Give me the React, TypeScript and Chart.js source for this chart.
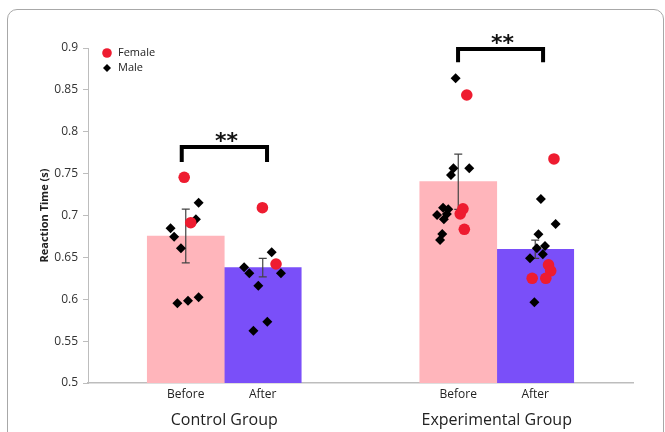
import React, { useEffect, useRef } from 'react';
import { Chart, registerables } from 'chart.js';

Chart.register(...registerables);

// ---------- DATA ----------
const groupLabels = ['Control Group', 'Experimental Group'];
const phaseLabels = ['Before', 'After'];
const beforeMeans = [0.6755, 0.7404];
const afterMeans = [0.6377, 0.6597];
const beforeErr = [0.032, 0.033];
const afterErr = [0.011, 0.011];
const yTicks = [0.5, 0.55, 0.6, 0.65, 0.7, 0.75, 0.8, 0.85, 0.9];

// individual subjects (x = jittered position in group units, y = reaction time)
const femaleX = [-0.147, -0.123, 0.14, 0.19, 0.89, 0.866, 0.876, 0.881, 1.21, 1.19, 1.198, 1.13, 1.18];
const femaleY = [0.7456, 0.6914, 0.7093, 0.6421, 0.8439, 0.702, 0.708, 0.6835, 0.7675, 0.641, 0.634, 0.625, 0.625];
const maleX = [
  -0.094, -0.104, -0.197, -0.184, -0.159, -0.172, -0.133, -0.094,
  0.174, 0.073, 0.092, 0.208, 0.125, 0.158, 0.107,
  0.849, 0.841, 0.899, 0.832, 0.781, 0.803, 0.817, 0.806, 0.822, 0.8, 0.792,
  1.162, 1.216, 1.153, 1.177, 1.147, 1.169, 1.122, 1.138,
];
const maleY = [
  0.7153, 0.6955, 0.6847, 0.6747, 0.6608, 0.5952, 0.5983, 0.6023,
  0.6561, 0.6381, 0.631, 0.631, 0.6162, 0.5732, 0.5625,
  0.8638, 0.7564, 0.7564, 0.7484, 0.7006, 0.7093, 0.7018, 0.6955, 0.7075, 0.678, 0.6707,
  0.7197, 0.6899, 0.6776, 0.6636, 0.6608, 0.6537, 0.6489, 0.5964,
];

// significance brackets
const bracketLeft = [-0.156, 0.858];
const bracketRight = [0.157, 1.17];
const bracketTop = [0.7818, 0.8988];
const bracketLeg = [0.7639, 0.883];
const sigLabels = ['**', '**'];

const legendLabels = ['Female', 'Male'];

// ---------- STYLE ----------
const PINK = '#FFB5BB';
const PURPLE = '#7A4FF9';
const RED = '#EE1C30';
const FONT = "'Open Sans', 'Noto Sans', sans-serif";
const PAIR_WIDTH = 0.565; // fraction of a group slot covered by the two bars
const barOffset = PAIR_WIDTH / 4;

const errorBarPlugin = {
  id: 'errorBars',
  afterDatasetDraw(chart: any, args: any) {
    const meta = args.meta;
    if (meta.type !== 'bar') return;
    const errs = args.index === 0 ? beforeErr : afterErr;
    const means = args.index === 0 ? beforeMeans : afterMeans;
    const y = chart.scales.y;
    const ctx = chart.ctx;
    ctx.save();
    ctx.strokeStyle = '#444';
    ctx.lineWidth = 1.2;
    meta.data.forEach((bar: any, i: number) => {
      const x = bar.x;
      const top = y.getPixelForValue(means[i] + errs[i]);
      const bot = y.getPixelForValue(means[i] - errs[i]);
      ctx.beginPath();
      ctx.moveTo(x, top);
      ctx.lineTo(x, bot);
      ctx.moveTo(x - 4, top);
      ctx.lineTo(x + 4, top);
      ctx.moveTo(x - 4, bot);
      ctx.lineTo(x + 4, bot);
      ctx.stroke();
    });
    ctx.restore();
  },
};

const annotPlugin = {
  id: 'annot',
  afterDatasetsDraw(chart: any) {
    const ctx = chart.ctx;
    const xs = chart.scales.x;
    const y = chart.scales.y;
    ctx.save();
    ctx.strokeStyle = '#000';
    ctx.lineWidth = 4;
    ctx.lineJoin = 'miter';
    ctx.lineCap = 'butt';
    for (let i = 0; i < bracketLeft.length; i++) {
      const xl = xs.getPixelForValue(bracketLeft[i]);
      const xr = xs.getPixelForValue(bracketRight[i]);
      const yt = y.getPixelForValue(bracketTop[i]);
      const yl = y.getPixelForValue(bracketLeg[i]);
      ctx.beginPath();
      ctx.moveTo(xl, yl);
      ctx.lineTo(xl, yt);
      ctx.lineTo(xr, yt);
      ctx.lineTo(xr, yl);
      ctx.stroke();
      ctx.fillStyle = '#111';
      ctx.font = "bold 22px 'DejaVu Sans'";
      ctx.textAlign = 'center';
      ctx.textBaseline = 'alphabetic';
      ctx.fillText(sigLabels[i], (xl + xr) / 2 + 2, yt + 1);
    }
    // legend
    const lx = chart.chartArea.left + 19;
    const ly = chart.chartArea.top + 5;
    ctx.fillStyle = RED;
    ctx.beginPath();
    ctx.arc(lx, ly, 4.8, 0, Math.PI * 2);
    ctx.fill();
    ctx.fillStyle = '#000';
    ctx.beginPath();
    const dy = ly + 15;
    ctx.moveTo(lx, dy - 4);
    ctx.lineTo(lx + 4, dy);
    ctx.lineTo(lx, dy + 4);
    ctx.lineTo(lx - 4, dy);
    ctx.closePath();
    ctx.fill();
    ctx.font = `11px ${FONT}`;
    ctx.textAlign = 'left';
    ctx.textBaseline = 'middle';
    ctx.fillStyle = '#222';
    ctx.fillText(legendLabels[0], lx + 11, ly);
    ctx.fillText(legendLabels[1], lx + 11, dy);
    ctx.restore();
  },
};

export default function App() {
  const ref = useRef<HTMLCanvasElement>(null);
  useEffect(() => {
    document.body.style.margin = '0';
    const chart = new Chart(ref.current as HTMLCanvasElement, {
      type: 'bar',
      data: {
        datasets: [
          {
            label: phaseLabels[0],
            data: beforeMeans.map((v, i) => ({ x: i - barOffset, y: v })),
            backgroundColor: PINK,
            xAxisID: 'x',
            yAxisID: 'y',
            grouped: false,
            categoryPercentage: 1,
            barPercentage: 1,
            order: 2,
          } as any,
          {
            label: phaseLabels[1],
            data: afterMeans.map((v, i) => ({ x: i + barOffset, y: v })),
            backgroundColor: PURPLE,
            xAxisID: 'x',
            yAxisID: 'y',
            grouped: false,
            categoryPercentage: 1,
            barPercentage: 1,
            order: 2,
          } as any,
          {
            type: 'scatter',
            label: legendLabels[0],
            data: femaleX.map((x, i) => ({ x, y: femaleY[i] })),
            xAxisID: 'x',
            yAxisID: 'y',
            pointStyle: 'circle',
            pointRadius: 5.8,
            backgroundColor: RED,
            borderColor: RED,
            borderWidth: 0,
            order: 0,
          } as any,
          {
            type: 'scatter',
            label: legendLabels[1],
            data: maleX.map((x, i) => ({ x, y: maleY[i] })),
            xAxisID: 'x',
            yAxisID: 'y',
            pointStyle: 'rectRot',
            pointRadius: 5,
            backgroundColor: '#000',
            borderColor: '#000',
            borderWidth: 0,
            order: 1,
          } as any,
        ],
      },
      options: {
        responsive: false,
        animation: false,
        devicePixelRatio: 1,
        layout: { padding: { left: 38, right: 32, top: 48, bottom: 0 } },
        plugins: {
          legend: { display: false },
          tooltip: { enabled: false },
        },
        scales: {
          y: {
            type: 'linear',
            min: 0.5,
            max: 0.9,
            afterFit: (s: any) => { s.width = 50; },
            afterBuildTicks: (s: any) => { s.ticks = yTicks.map((value) => ({ value })); },
            ticks: {
              callback: (v: any) => String(v),
              font: { family: FONT, size: 12 },
              color: '#333',
              padding: 5,
            },
            grid: { drawOnChartArea: false, drawTicks: true, tickLength: 5, color: '#bdbdbd' },
            border: { display: true, color: '#bdbdbd' },
            title: {
              display: true,
              text: 'Reaction Time (s)',
              font: { family: FONT, size: 11, weight: 'bold' },
              color: '#222',
              padding: 0,
            },
          },
          x: {
            type: 'linear',
            position: 'bottom',
            min: -0.5,
            max: 1.5,
            offset: false,
            weight: 0,
            afterFit: (s: any) => { s.height = 24; },
            afterBuildTicks: (s: any) => {
              const t: any[] = [];
              groupLabels.forEach((_, i) => {
                t.push({ value: i - barOffset });
                t.push({ value: i + barOffset });
              });
              s.ticks = t;
            },
            ticks: {
              autoSkip: false,
              maxRotation: 0,
              callback: (_v: any, i: number) => phaseLabels[i % 2],
              font: { family: FONT, size: 12 },
              color: '#222',
              padding: 4,
            },
            grid: { display: false, drawTicks: false },
            border: { display: true, color: '#bdbdbd', width: 1.5 },
          },
          xg: {
            type: 'category',
            position: 'bottom',
            axis: 'x',
            labels: groupLabels,
            offset: true,
            weight: 1,
            afterFit: (s: any) => { s.height = 25; },
            ticks: {
              font: { family: FONT, size: 16 },
              color: '#222',
              padding: 4,
              maxRotation: 0,
              autoSkip: false,
            },
            grid: { display: false, drawTicks: false },
            border: { display: false },
          },
        },
      } as any,
      plugins: [errorBarPlugin, annotPlugin],
    });
    return () => chart.destroy();
  }, []);

  return (
    <div style={{ position: 'relative', width: 665, height: 432, overflow: 'hidden', background: '#fff' }}>
      <div
        style={{
          position: 'absolute',
          left: 7,
          top: 9,
          width: 657,
          height: 440,
          border: '1px solid #a8a8a8',
          borderRadius: 10,
          boxSizing: 'border-box',
        }}
      />
      <canvas
        ref={ref}
        width={665}
        height={432}
        style={{ position: 'absolute', left: 0, top: 0, width: 665, height: 432 }}
      />
    </div>
  );
}
